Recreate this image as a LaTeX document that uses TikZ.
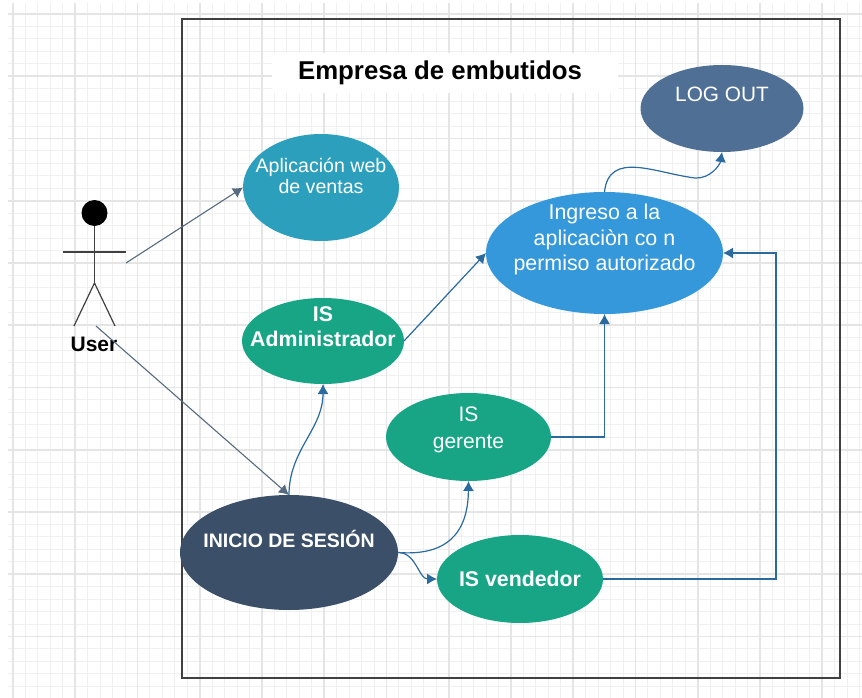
\documentclass[tikz,border=0pt]{standalone}
\usepackage{fontspec}
\setmainfont{Liberation Sans}
\usepackage{tikz}
\usetikzlibrary{shapes.geometric}
\usetikzlibrary{arrows.meta}
\definecolor{cuadro}{HTML}{404040}
\definecolor{cian}{HTML}{2C9FBD}
\definecolor{pizarra}{HTML}{4F7094}
\definecolor{celeste}{HTML}{3498DB}
\definecolor{verde}{HTML}{17A585}
\definecolor{marino}{HTML}{3B5068}
\definecolor{flechaazul}{HTML}{2A6A9E}
\definecolor{flechagris}{HTML}{566A80}
\tikzset{
  caso/.style={ellipse,inner sep=-60pt,outer sep=0pt,align=center,text=white},
  flecha/.style={-{Latex[length=10pt,width=11pt]},flechaazul,line width=1.2pt},
  enlace/.style={-{Latex[length=10pt,width=11pt]},flechagris,line width=1.1pt},
  actor/.style={draw=cuadro,line width=1.2pt}
}
\newcommand{\letra}[1]{\fontsize{#1}{#1}\selectfont}

\begin{document}
\begin{tikzpicture}[x=1pt,y=-1pt]
\useasboundingbox (0,0) rectangle (862,698);

\foreach \i in {0,...,68} \draw[black!6,line width=1pt] ({13+12.45*\i},3) -- ({13+12.45*\i},698);
\foreach \i in {0,...,54} \draw[black!6,line width=1pt] (8,{14+12.45*\i}) -- (862,{14+12.45*\i});
\foreach \i in {0,...,13} \draw[black!10,line width=1.8pt] ({13+62.25*\i},3) -- ({13+62.25*\i},698);
\foreach \i in {0,...,10} \draw[black!10,line width=1.8pt] (8,{14+62.25*\i}) -- (862,{14+62.25*\i});

\node (titulo) at (445,73) [fill=white,minimum width=346pt,minimum height=40pt,inner sep=0pt,font=\bfseries\letra{25.8}] {Empresa de embutidos\hspace*{10pt}};
\node (sistema) at (511,348.5) [draw=cuadro,line width=1.3pt,minimum width=658pt,minimum height=659pt,inner sep=0pt] {};

% actor
\node (cabeza) at (94.5,213) [circle,fill=black,minimum size=26pt,inner sep=0pt] {};
\coordinate (cadera) at (94.5,283);
\coordinate (manoi) at (63,252);
\coordinate (manod) at (126,252);
\coordinate (piei) at (74,326);
\coordinate (pied) at (115,326);
\draw[actor] (cabeza) -- (cadera);
\draw[actor] (manoi) -- (manod);
\draw[actor] (piei) -- (cadera) -- (pied);
\node (user) at (94,344) [font=\bfseries\letra{21},inner sep=0pt] {User};

\node (web) at (321,187.5) [caso,fill=cian,minimum width=156pt,minimum height=107pt,font=\letra{19.6}] {Aplicación web\\[1pt]de ventas\\[4pt]\mbox{}};
\node (logout) at (722,108.5) [caso,fill=pizarra,minimum width=163pt,minimum height=87pt,font=\letra{20.8}] {LOG OUT\\[8pt]\mbox{}};
\node (ingreso) at (604.5,253) [caso,fill=celeste,minimum width=237pt,minimum height=122pt,font=\letra{21.4}] {Ingreso a la\\[4pt]aplicaciòn co n\\[4pt]permiso autorizado\\[10pt]\mbox{}};
\node (admin) at (323,341) [caso,fill=verde,minimum width=162pt,minimum height=86pt,font=\bfseries\letra{21.3}] {IS\\[4pt]Administrador\\[7pt]\mbox{}};
\node (gerente) at (468.5,437) [caso,fill=verde,minimum width=165pt,minimum height=88pt,font=\letra{21}] {IS\\[6pt]gerente\\[-2pt]\mbox{}};
\node (inicio) at (289,552.5) [caso,fill=marino,minimum width=218pt,minimum height=115pt,font=\bfseries\letra{19.5}] {INICIO DE SESIÓN\\[8pt]\mbox{}};
\node (vendedor) at (520,579) [caso,fill=verde,minimum width=166pt,minimum height=88pt,font=\bfseries\letra{21.3}] {IS vendedor};

\coordinate (salida1) at (126,263);
\coordinate (salida2) at (96,326);
\coordinate (codo) at (776,253);

\draw[enlace] (salida1) -- (web.west);
\draw[enlace] (salida2) -- (inicio.north);
\draw[flecha] (inicio.north) to [out=90,in=-90] (admin.south);
\draw[flecha] (admin.east) -- (ingreso.west);
\draw[flecha] (gerente.east) -| (ingreso.south);
\draw[flecha] (vendedor.east) -| (codo) -- (ingreso.east);
\draw[flecha] (inicio.east) .. controls (445,556) and (468,535) .. (gerente.south);
\draw[flecha] (inicio.east) to [out=0,in=180] (vendedor.west);
\draw[flecha] (ingreso.north) .. controls (609,150) and (655,173) .. (695,178) .. controls (710,179) and (720,165) .. (logout.south);
\end{tikzpicture}
\end{document}
